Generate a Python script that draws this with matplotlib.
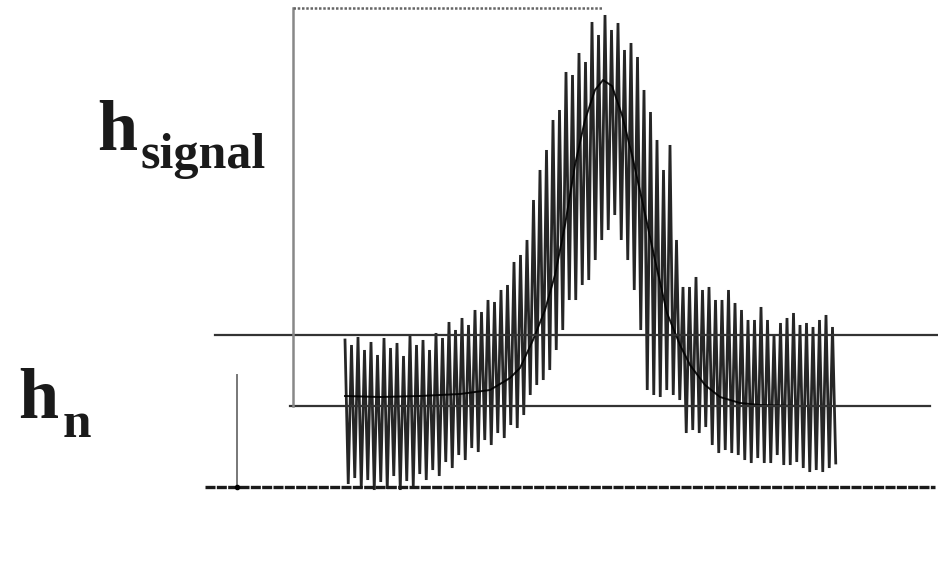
# coding:utf8
"""
Noisy peak sketch: signal height vs noise band
"""

import numpy as np
import matplotlib.pyplot as plt
from matplotlib import rcParams

rcParams['font.family'] = ['Liberation Serif', 'DejaVu Serif']

# spike positions (time) and noisy trace extremes, heights above baseline
t0, dt = 345.0, 6.5
spike_top = [147, 142, 150, 137, 145, 132, 149, 139, 144, 131, 152, 142, 147, 137, 154,
             149, 165, 157, 169, 162, 177, 175, 187, 185, 197, 202, 225, 232, 247, 287,
             317, 337, 367, 377, 415, 412, 434, 425, 465, 452, 472, 457, 464, 437, 444,
             430, 397, 375, 347, 317, 342, 247, 200, 200, 210, 197, 200, 187, 187, 197,
             184, 177, 167, 167, 180, 167, 152, 164, 169, 174, 162, 164, 160, 167, 172, 160]
spike_bot = [3, 9, -1, 7, -3, 5, -2, 11, -3, 6, 1, 13, 7, 17, 11,
             25, 19, 32, 27, 39, 35, 47, 42, 54, 49, 62, 59, 72, 92, 102,
             107, 117, 137, 157, 187, 187, 202, 207, 227, 247, 257, 272, 247, 227, 197,
             157, 97, 92, 90, 97, 92, 87, 54, 57, 54, 60, 42, 34, 37, 34,
             32, 27, 24, 29, 24, 24, 32, 22, 22, 25, 19, 15, 17, 15, 19, 24]

# smoothed peak
smooth_t = [345, 380, 420, 460, 490, 510, 520, 533, 545, 555, 565, 575, 585, 595, 603,
            612, 622, 632, 642, 655, 667, 680, 690, 705, 720, 740, 760, 800, 835]
smooth_h = [91, 90, 91, 93, 97, 109, 119, 147, 177, 212, 262, 322, 367, 397, 407,
            401, 372, 332, 287, 227, 174, 142, 122, 102, 90, 84, 82, 81, 81]

# reference levels
h_top = 479      # peak maximum
h_mean = 81      # noise mean
h_upper = 152    # upper noise limit

fig = plt.figure(figsize=(9.38, 5.88), dpi=100)
ax = fig.add_axes([0, 0, 1, 1])
ax.set_xlim(0, 938)
ax.set_ylim(-101, 487)
ax.axis('off')

# zig-zag trace
n = len(spike_top)
tt = np.empty(2 * n)
hh = np.empty(2 * n)
tt[0::2] = t0 + dt * np.arange(n)
tt[1::2] = t0 + dt * np.arange(n) + dt / 2
hh[0::2] = spike_top
hh[1::2] = spike_bot
ax.plot(tt, hh, color='black', lw=2.0, alpha=0.85, solid_joinstyle='miter')
ax.plot(smooth_t, smooth_h, color='black', lw=1.4, alpha=0.9)

# guide lines
ax.plot([205, 935], [0, 0], color='#1a1a1a', lw=2.4, ls=(0, (3, 0.4)))
ax.plot([215, 938], [h_upper, h_upper], color='#333333', lw=1.6)
ax.plot([290, 930], [h_mean, h_mean], color='#333333', lw=1.6)
ax.plot([293, 293], [h_mean, h_top], color='#888888', lw=1.8)
ax.plot([293, 603], [h_top, h_top], color='#666666', lw=1.8, ls=(0, (1, 0.7)))
ax.plot([237, 237], [0, 112], color='#777777', lw=1.4)
ax.plot([237], [0], marker='o', ms=3, color='black')

# labels
ax.text(97, 337, "h", fontsize=52, fontweight='bold', color='#1a1a1a', va='baseline')
ax.text(140, 319, "signal", fontsize=36, fontweight='bold', color='#1a1a1a', va='baseline')
ax.text(18, 69, "h", fontsize=52, fontweight='bold', color='#1a1a1a', va='baseline')
ax.text(63, 50, "n", fontsize=37, fontweight='bold', color='#1a1a1a', va='baseline')

plt.savefig("out.png", dpi=100)
